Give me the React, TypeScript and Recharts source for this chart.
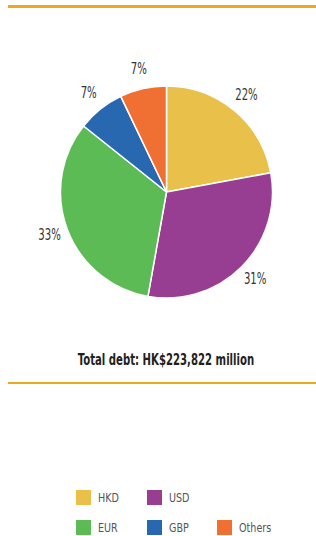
import { Cell, Legend, Pie, PieChart } from "recharts";

const currencies = ["HKD", "USD", "EUR", "GBP", "Others"];
const shares = [22.1, 30.7, 32.9, 7.2, 7.1];
const colors = ["#E8C04A", "#973E93", "#5DBB55", "#2868B0", "#F07033"];
const legendRows = [
  ["HKD", "USD"],
  ["EUR", "GBP", "Others"],
];
const totalLabel = "Total debt: HK$223,822 million";

const FONT = '"DejaVu Sans Condensed", "DejaVu Sans", sans-serif';
const GOLD = "#EBAA1E";
const RAD = Math.PI / 180;

const data = currencies.map((name, i) => ({ name, value: shares[i] }));

function renderLabel(props: any) {
  const { cx, cy, midAngle, outerRadius, value } = props;
  const r = outerRadius + 19;
  const x = cx + r * Math.cos(-midAngle * RAD);
  const y = cy + r * Math.sin(-midAngle * RAD);
  return (
    <text
      transform={`translate(${x},${y - 1}) scale(0.75,1)`}
      textAnchor="middle"
      dominantBaseline="central"
      fontFamily={FONT}
      fontSize={15}
      fill="#333333"
    >
      {`${Math.round(value)}%`}
    </text>
  );
}

function CurrencyLegend() {
  return (
    <div style={{ fontFamily: FONT, fontSize: 13, color: "#555555" }}>
      {legendRows.map((row, ri) => (
        <div key={ri} style={{ display: "flex", height: 30 }}>
          {row.map((name) => (
            <div key={name} style={{ display: "flex", alignItems: "center", width: 70.5, height: 15 }}>
              <span
                style={{
                  width: 15,
                  height: 15,
                  background: colors[currencies.indexOf(name)],
                  marginRight: 7,
                  flexShrink: 0,
                }}
              />
              <span style={{ display: "inline-block", transform: "scaleX(0.82)", transformOrigin: "left center" }}>
                {name}
              </span>
            </div>
          ))}
        </div>
      ))}
    </div>
  );
}

export default function App() {
  return (
    <div style={{ position: "fixed", left: 0, top: 0, width: 316, height: 536, background: "#fff" }}>
      <div style={{ position: "absolute", left: 8, top: 5, width: 308, height: 2.5, background: GOLD }} />
      <PieChart
        width={316}
        height={536}
        margin={{ top: 0, right: 0, bottom: 0, left: 0 }}
        style={{ position: "absolute", left: 0, top: 0 }}
      >
        <Pie
          data={data}
          dataKey="value"
          nameKey="name"
          cx={166.5}
          cy={192}
          outerRadius={106}
          startAngle={90}
          endAngle={-270}
          stroke="#ffffff"
          strokeWidth={1.5}
          label={renderLabel}
          labelLine={false}
          isAnimationActive={false}
        >
          {data.map((d, i) => (
            <Cell key={d.name} fill={colors[i]} />
          ))}
        </Pie>
        <Legend
          content={() => <CurrencyLegend />}
          wrapperStyle={{ position: "absolute", left: 76, top: 490, width: 240 }}
        />
      </PieChart>
      <div
        style={{
          position: "absolute",
          left: 0,
          top: 351,
          width: 332,
          textAlign: "center",
          fontFamily: FONT,
          fontWeight: "bold",
          fontSize: 15,
          color: "#231F20",
          transform: "scaleX(0.75)",
        }}
      >
        {totalLabel}
      </div>
      <div style={{ position: "absolute", left: 8, top: 382, width: 308, height: 2, background: GOLD }} />
    </div>
  );
}
